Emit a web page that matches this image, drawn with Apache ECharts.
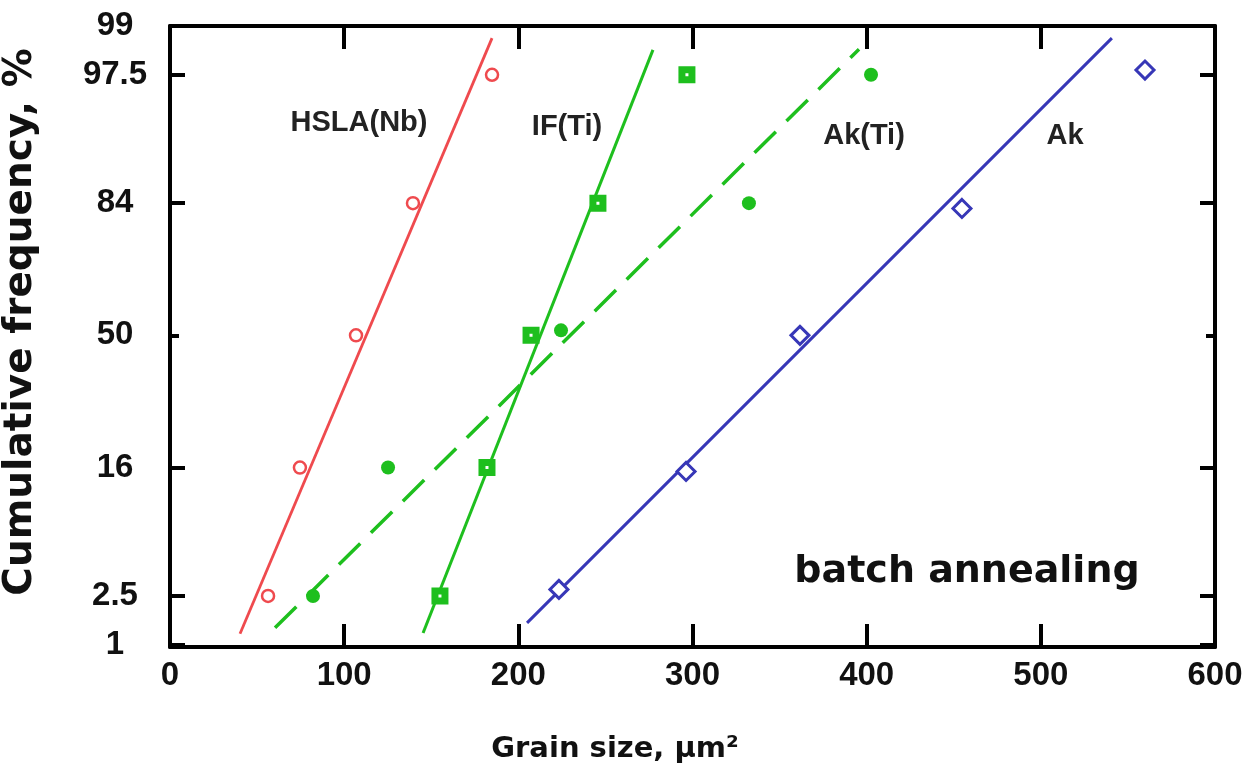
<!DOCTYPE html>
<html>
<head>
<meta charset="utf-8">
<script src="https://cdn.jsdelivr.net/npm/echarts@6.0.0/dist/echarts.min.js"></script>
<style>
html,body{margin:0;padding:0;background:#fff;}
#chart{width:1253px;height:770px;}
</style>
</head>
<body>
<div id="chart"></div>
<script>
// ---------- data ----------
const tickPercents = [1, 2.5, 16, 50, 84, 97.5, 99];
const tickLabels = ['1', '2.5', '16', '50', '84', '97.5', '99'];
const xMin = 0, xMax = 600, xInterval = 100;

// HSLA(Nb) – open red circles
const hslaX = [56.3, 74.6, 106.8, 139.5, 184.9];
const hslaP = [2.5, 16, 50, 84, 97.5];
// IF(Ti) – green squares
const ifX = [155.0, 182.0, 207.3, 245.7, 296.8];
const ifP = [2.5, 16, 50, 84, 97.5];
// Ak(Ti) – filled green circles
const akTiX = [82.1, 125.2, 224.5, 332.4, 402.5];
const akTiP = [2.5, 16, 51.5, 84, 97.5];
// Ak – open blue diamonds
const akX = [223.3, 296.3, 361.7, 454.7, 559.8];
const akP = [2.8, 15.3, 50, 83, 97.7];

// fitted lines (end points: grain size, cumulative %)
const hslaLineX = [40.2, 184.9];
const hslaLineP = [1.24, 98.73];
const ifLineX = [145.3, 277.3];
const ifLineP = [1.26, 98.41];
const akTiLineX = [60.3, 395.6];
const akTiLineP = [1.39, 98.43];
const akLineX = [205.0, 540.8];
const akLineP = [1.53, 98.73];

const seriesNames = ['HSLA(Nb)', 'IF(Ti)', 'Ak(Ti)', 'Ak'];

// ---------- probability (probit) scale ----------
function probit(p) {
  const a=[-3.969683028665376e+01,2.209460984245205e+02,-2.759285104469687e+02,1.383577518672690e+02,-3.066479806614716e+01,2.506628277459239e+00];
  const b=[-5.447609879822406e+01,1.615858368580409e+02,-1.556989798598866e+02,6.680131188771972e+01,-1.328068155288572e+01];
  const c=[-7.784894002430293e-03,-3.223964580411365e-01,-2.400758277161838e+00,-2.549732539343734e+00,4.374664141464968e+00,2.938163982698783e+00];
  const d=[7.784695709041462e-03,3.224671290700398e-01,2.445134137142996e+00,3.754408661907416e+00];
  const pl=0.02425, ph=1-pl;
  let q, r;
  if (p < pl) { q=Math.sqrt(-2*Math.log(p)); return (((((c[0]*q+c[1])*q+c[2])*q+c[3])*q+c[4])*q+c[5])/((((d[0]*q+d[1])*q+d[2])*q+d[3])*q+1); }
  if (p <= ph) { q=p-0.5; r=q*q; return (((((a[0]*r+a[1])*r+a[2])*r+a[3])*r+a[4])*r+a[5])*q/(((((b[0]*r+b[1])*r+b[2])*r+b[3])*r+b[4])*r+1); }
  q=Math.sqrt(-2*Math.log(1-p)); return -(((((c[0]*q+c[1])*q+c[2])*q+c[3])*q+c[4])*q+c[5])/((((d[0]*q+d[1])*q+d[2])*q+d[3])*q+1);
}
const zOf = pct => probit(pct / 100);
const tickZ = tickPercents.map(zOf);
const yMaxZ = zOf(99) + 0.0004;
const yMinZ = -2.344;
const pts = (xs, ps) => xs.map((x, i) => [x, zOf(ps[i])]);
const labelFor = v => {
  let best = 0;
  tickZ.forEach((z, i) => { if (Math.abs(z - v) < Math.abs(tickZ[best] - v)) best = i; });
  return tickLabels[best];
};

const RED = '#ef4a4e', GREEN = '#1ebf1e', BLUE = '#3737b7';
const FONT = '"Liberation Sans", Arial, sans-serif';
const WIDEFONT = '"DejaVu Sans", "Liberation Sans", sans-serif';

const axisLine = { show: true, onZero: false, lineStyle: { color: '#000', width: 4 } };
const mkX = (pos, showLabel) => ({
  type: 'value', position: pos, min: xMin, max: xMax, interval: xInterval,
  axisLine: axisLine,
  axisTick: { show: true, inside: true, length: 23, lineStyle: { color: '#000', width: 4 } },
  axisLabel: { show: showLabel, margin: 12, color: '#111', fontFamily: FONT, fontWeight: 'bold', fontSize: 33 },
  splitLine: { show: false }
});
const mainTicks = tickZ.filter((z, i) => tickPercents[i] !== 50);
const midTick = tickZ.filter((z, i) => tickPercents[i] === 50);
const mkY = (pos, showLabel, ticks, len, line) => ({
  type: 'value', position: pos, min: yMinZ, max: yMaxZ,
  axisLine: line ? axisLine : { show: false, onZero: false },
  axisTick: { show: true, inside: true, length: len, customValues: ticks, lineStyle: { color: '#000', width: 4 } },
  axisLabel: { show: showLabel, customValues: tickZ, formatter: labelFor, align: 'center', margin: 55,
    color: '#111', fontFamily: FONT, fontWeight: 'bold', fontSize: 33 },
  splitLine: { show: false }
});

const lineSeries = (name, xs, ps, color, type, width) => ({
  name: name + ' fit', type: 'line', data: pts(xs, ps), showSymbol: false, symbol: 'none',
  lineStyle: { color: color, width: width, type: type }, silent: true, z: 2
});

const option = {
  animation: false,
  backgroundColor: '#fff',
  grid: { left: 170, right: 38, top: 26, bottom: 123 },
  xAxis: [mkX('bottom', true), mkX('top', false)],
  yAxis: [
    mkY('left', true, mainTicks, 15, true),
    mkY('right', false, mainTicks, 15, true),
    mkY('left', false, midTick, 9, false),
    mkY('right', false, midTick, 9, false)
  ],
  series: [
    lineSeries(seriesNames[0], hslaLineX, hslaLineP, RED, 'solid', 2.8),
    lineSeries(seriesNames[1], ifLineX, ifLineP, GREEN, 'solid', 3),
    lineSeries(seriesNames[2], akTiLineX, akTiLineP, GREEN, [30, 15], 3.5),
    lineSeries(seriesNames[3], akLineX, akLineP, BLUE, 'solid', 3),
    { name: seriesNames[0], type: 'scatter', data: pts(hslaX, hslaP), symbol: 'circle', symbolSize: 12,
      itemStyle: { color: '#fff', borderColor: RED, borderWidth: 2.5, opacity: 1 }, z: 3 },
    { name: seriesNames[1], type: 'scatter', data: pts(ifX, ifP), symbol: 'rect', symbolSize: 10,
      itemStyle: { color: '#fff', borderColor: GREEN, borderWidth: 7, opacity: 1 }, z: 3 },
    { name: seriesNames[2], type: 'scatter', data: pts(akTiX, akTiP), symbol: 'circle', symbolSize: 14,
      itemStyle: { color: GREEN, opacity: 1 }, z: 3 },
    { name: seriesNames[3], type: 'scatter', data: pts(akX, akP), symbol: 'diamond', symbolSize: 18,
      itemStyle: { color: '#fff', borderColor: BLUE, borderWidth: 3, opacity: 1 }, z: 3 }
  ],
  graphic: [
    { type: 'text', x: 21, y: 322, rotation: Math.PI / 2,
      style: { text: 'Cumulative frequency, %', fill: '#111', font: 'bold 39px ' + WIDEFONT, align: 'center', verticalAlign: 'middle' } },
    { type: 'text', x: 615, y: 749,
      style: { text: 'Grain size, µm²', fill: '#111', font: 'bold 29px ' + WIDEFONT, align: 'center', verticalAlign: 'middle' } },
    { type: 'text', x: 967, y: 572,
      style: { text: 'batch annealing', fill: '#111', font: 'bold 38px ' + WIDEFONT, align: 'center', verticalAlign: 'middle' } },
    { type: 'text', x: 359, y: 123,
      style: { text: seriesNames[0], fill: '#222', font: 'bold 29px ' + FONT, align: 'center', verticalAlign: 'middle' } },
    { type: 'text', x: 567, y: 127,
      style: { text: seriesNames[1], fill: '#222', font: 'bold 29px ' + FONT, align: 'center', verticalAlign: 'middle' } },
    { type: 'text', x: 864, y: 136,
      style: { text: seriesNames[2], fill: '#222', font: 'bold 29px ' + FONT, align: 'center', verticalAlign: 'middle' } },
    { type: 'text', x: 1065, y: 136,
      style: { text: seriesNames[3], fill: '#222', font: 'bold 29px ' + FONT, align: 'center', verticalAlign: 'middle' } }
  ]
};

const chart = echarts.init(document.getElementById('chart'), null, { renderer: 'canvas' });
chart.setOption(option);
</script>
</body>
</html>
